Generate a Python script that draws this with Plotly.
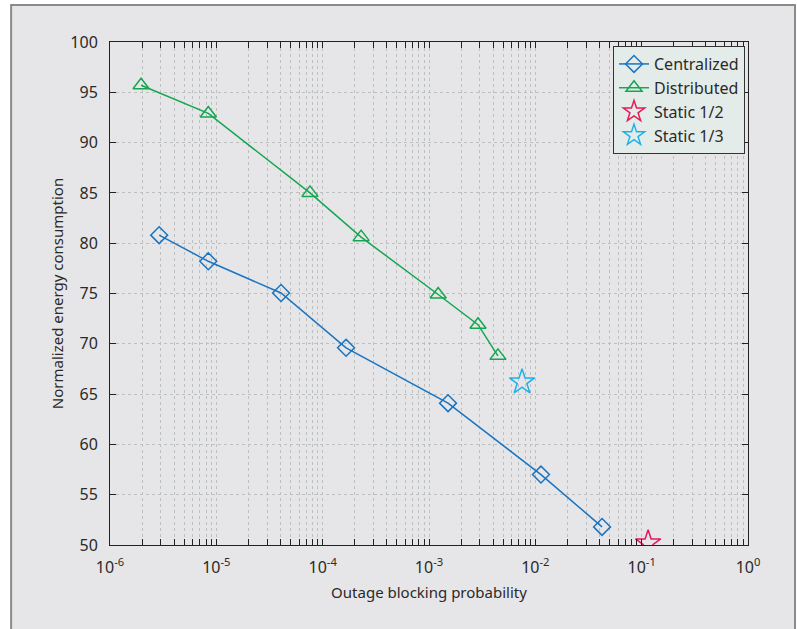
import plotly.graph_objects as go

cent_x = [2.9e-6, 8.4e-6, 4.06e-5, 1.66e-4, 1.51e-3, 1.13e-2, 4.24e-2]
cent_y = [80.8, 78.2, 75.05, 69.6, 64.1, 57.0, 51.8]
dist_x = [1.96e-6, 8.4e-6, 7.6e-5, 2.3e-4, 1.22e-3, 2.89e-3, 4.45e-3]
dist_y = [95.7, 92.9, 85.0, 80.6, 74.9, 71.9, 68.8]
s12_x = [0.115]
s12_y = [50.2]
s13_x = [7.5e-3]
s13_y = [66.2]
xtick_vals = [1e-6, 1e-5, 1e-4, 1e-3, 1e-2, 1e-1, 1]
xtick_text = ["10<sup>-6</sup>", "10<sup>-5</sup>", "10<sup>-4</sup>", "10<sup>-3</sup>",
              "10<sup>-2</sup>", "10<sup>-1</sup>", "10<sup>0</sup>"]

BLUE = "#1a74c0"
GREEN = "#14a650"
RED = "#e8185a"
CYAN = "#1fb0ea"

fig = go.Figure()
fig.add_trace(go.Scatter(x=cent_x, y=cent_y, mode="lines+markers", name="Centralized",
                         line=dict(color=BLUE, width=1.5),
                         marker=dict(symbol="diamond-open", size=13, color=BLUE, line=dict(width=1.5))))
fig.add_trace(go.Scatter(x=dist_x, y=dist_y, mode="lines+markers", name="Distributed",
                         line=dict(color=GREEN, width=1.5),
                         marker=dict(symbol="triangle-up-open", size=14, color=GREEN, line=dict(width=1.5))))
fig.add_trace(go.Scatter(x=s12_x, y=s12_y, mode="markers", name="Static 1/2",
                         marker=dict(symbol="star-open", size=19, color=RED, line=dict(width=1.5))))
fig.add_trace(go.Scatter(x=s13_x, y=s13_y, mode="markers", name="Static 1/3",
                         marker=dict(symbol="star-open", size=19, color=CYAN, line=dict(width=1.5))))

fig.add_shape(type="rect", xref="paper", yref="paper", x0=-0.155, x1=1.0737, y0=-0.2, y1=1.0736,
              fillcolor="#e6e6e8", line=dict(color="#8a8a8a", width=2), layer="below")

gridc = "#bcc0be"
fig.update_xaxes(type="log", range=[-6, 0], tickvals=xtick_vals, ticktext=xtick_text,
                 ticks="inside", ticklen=6, tickcolor="#222", showline=True, linecolor="#222",
                 linewidth=1, mirror="ticks", showgrid=True, gridcolor=gridc, griddash="3px,3px",
                 gridwidth=1, zeroline=False, automargin=False, ticklabelstandoff=8,
                 minor=dict(ticks="inside", ticklen=6, tickcolor="#222", showgrid=True, dtick="D1",
                            gridcolor=gridc, griddash="3px,3px", gridwidth=1),
                 tickfont=dict(size=16, color="#2a2a2a"),
                 title=dict(text="Outage blocking probability", font=dict(size=15, color="#2a2a2a"), standoff=10))
fig.update_yaxes(range=[50, 100], dtick=5, ticks="inside", ticklen=6, tickcolor="#222",
                 showline=True, linecolor="#222", linewidth=1, mirror="ticks", showgrid=True,
                 gridcolor=gridc, griddash="3px,3px", gridwidth=1, zeroline=False, automargin=False,
                 ticklabelstandoff=8,
                 tickfont=dict(size=16, color="#2a2a2a"),
                 title=dict(text="Normalized energy consumption", font=dict(size=15, color="#2a2a2a"), standoff=3))

fig.update_layout(
    width=797, height=629,
    margin=dict(l=110, r=49, t=42, b=84),
    paper_bgcolor="white", plot_bgcolor="#dfe8e4",
    font=dict(family="Noto Sans", color="#2a2a2a"),
    showlegend=True,
    legend=dict(x=0.9953, y=0.992, xanchor="right", yanchor="top", bgcolor="#e4ece9",
                bordercolor="#333", borderwidth=1, font=dict(size=16, color="#2a2a2a"),
                tracegroupgap=0, itemwidth=30),
)

fig.write_html("out.html", config={"displayModeBar": False},
               post_script="document.body.style.margin='0';document.body.style.overflow='hidden';")
